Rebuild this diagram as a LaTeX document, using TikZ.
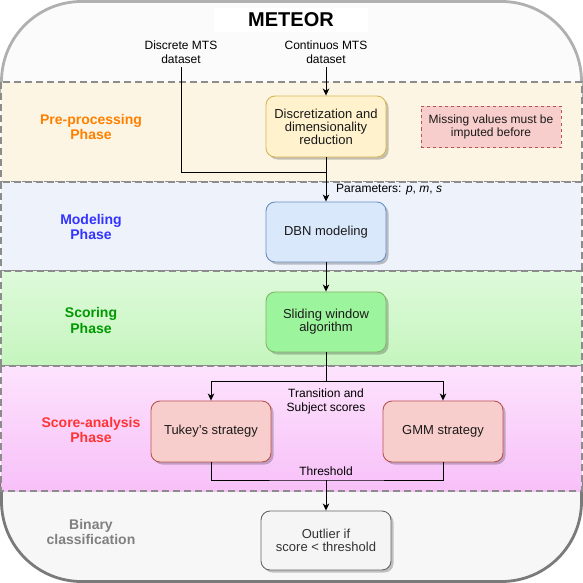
\documentclass[tikz,border=0pt]{standalone}
\usepackage{fontspec}
\setmainfont{Liberation Sans}
\usetikzlibrary{arrows.meta,shadows}
\definecolor{topfill}{HTML}{FBFBFB}
\definecolor{binfill}{HTML}{F7F7F7}
\definecolor{outerlight}{HTML}{B0B0B0}
\definecolor{outerdark}{HTML}{7A7A7A}
\definecolor{bandline}{HTML}{8C8C8C}
\definecolor{prefill}{HTML}{FDF5E3}
\definecolor{modfill}{HTML}{EEF2FB}
\definecolor{scoretop}{HTML}{DEFADA}
\definecolor{scorebot}{HTML}{C5F5BE}
\definecolor{satop}{HTML}{FDE3FD}
\definecolor{sabot}{HTML}{F7C0F8}
\definecolor{yellowfill}{HTML}{FFF2CC}
\definecolor{yellowline}{HTML}{D6B656}
\definecolor{bluefill}{HTML}{DAE8FC}
\definecolor{blueline}{HTML}{6C8EBF}
\definecolor{greenfill}{HTML}{9CF59C}
\definecolor{greenline}{HTML}{82B366}
\definecolor{redfill}{HTML}{F8CECC}
\definecolor{redline}{HTML}{B85450}
\definecolor{grayfill}{HTML}{F5F5F5}
\definecolor{grayline}{HTML}{666666}
\definecolor{phorange}{HTML}{FF8000}
\definecolor{phblue}{HTML}{3333FF}
\definecolor{phgreen}{HTML}{009900}
\definecolor{phred}{HTML}{FF3333}
\definecolor{phgray}{HTML}{808080}
\definecolor{boxtext}{HTML}{1A1A1A}
\begin{document}
\begin{tikzpicture}[x=1pt,y=-1pt,
  band/.style={draw=bandline, line width=1.5pt, dash pattern=on 7pt off 4pt},
  procbox/.style={rectangle, rounded corners=9pt, line width=0.9pt, minimum width=120pt,
    minimum height=60pt, align=center, text=boxtext, inner sep=2pt,
    font=\fontsize{13}{13}\selectfont,
    drop shadow={shadow xshift=2.5pt, shadow yshift=-2.5pt, fill=black, opacity=0.22}},
  lbl/.style={align=center, inner sep=3pt, font=\fontsize{12}{14.5}\selectfont},
  phase/.style={align=center, inner sep=1pt, font=\bfseries\fontsize{14}{15.5}\selectfont},
  wire/.style={line width=0.9pt, black},
  arr/.style={wire, -{Stealth[length=7pt, width=6.5pt, inset=2pt]}}
]
\useasboundingbox (0,0) rectangle (583,583);
% outer container
\fill[topfill, rounded corners=80pt] (1.5,1.5) rectangle (581.5,581.5);
\begin{scope}
  \clip (0,0) rectangle (583,100);
  \draw[outerlight, line width=2.8pt, rounded corners=80pt] (1.5,1.5) rectangle (581.5,581.5);
\end{scope}
\begin{scope}
  \clip (0,480) rectangle (583,583);
  \fill[binfill, rounded corners=80pt] (1.5,1.5) rectangle (581.5,581.5);
  \draw[outerdark, line width=2.8pt, rounded corners=80pt] (1.5,1.5) rectangle (581.5,581.5);
\end{scope}
% bands
\path[band, fill=prefill] (1,82) rectangle (582,182);
\path[band, fill=modfill] (1,182) rectangle (582,271);
\path[band, top color=scoretop, bottom color=scorebot] (1,271) rectangle (582,366);
\path[band, top color=satop, bottom color=sabot] (1,366) rectangle (582,491);
% title
\node[fill=white, minimum width=154pt, minimum height=24pt, inner sep=0pt,
  font=\bfseries\fontsize{20}{20}\selectfont] (title) at (291,20) {METEOR};
% phase labels
\node[phase, text=phorange] (ppre) at (91,127) {Pre-processing\\Phase};
\node[phase, text=phblue] (pmod) at (91,227) {Modeling\\Phase};
\node[phase, text=phgreen] (pscore) at (91,320.5) {Scoring\\Phase};
\node[phase, text=phred] (psa) at (91,430) {Score-analysis\\Phase};
\node[phase, text=phgray] (pbin) at (91,532) {Binary\\classification};
% inputs
\node[lbl] (disc) at (181,52) {Discrete MTS\\dataset};
\node[lbl] (cont) at (326,52) {Continuos MTS\\dataset};
% boxes
\node[procbox, fill=yellowfill, draw=yellowline, minimum height=61pt] (dr) at (326,126.5) {Discretization and\\dimensionality\\reduction};
\node[rectangle, fill=redfill, draw=redline, line width=0.6pt, dashed, minimum width=140pt,
  minimum height=41pt, align=center, text=boxtext, font=\fontsize{12}{13.5}\selectfont] (mv) at (491,127) {Missing values must be\\imputed before};
\node[procbox, fill=bluefill, draw=blueline] (dbn) at (326,232) {DBN modeling};
\node[procbox, fill=greenfill, draw=greenline] (sw) at (326,322) {Sliding window\\algorithm};
\node[procbox, fill=redfill, draw=redline, minimum height=61pt] (tk) at (211,431.5) {Tukey's strategy};
\node[procbox, fill=redfill, draw=redline, minimum height=61pt] (gmm) at (443,431.5) {GMM strategy};
\node[procbox, fill=grayfill, draw=grayline, minimum width=130pt, minimum height=59pt, text=black!80] (out) at (326,540.5) {Outlier if\\score < threshold};
% labels
\node[lbl, anchor=west] (par) at (333,190) {Parameters: \textit{p}, \textit{m}, \textit{s}};
\node[lbl] (ts) at (326,401.5) {Transition and\\Subject scores};
\node[lbl] (th) at (326,471) {Threshold};
% junctions
\coordinate (j1) at (326,172);
\coordinate (split) at (326,381);
\coordinate (merge) at (326,480);
% connectors
\draw[arr] (cont.south) -- (dr.north);
\draw[wire] (disc.south) |- (j1);
\draw[arr] (dr.south) -- (dbn.north);
\draw[arr] (dbn.south) -- (sw.north);
\draw[wire] (sw.south) -- (split);
\draw[arr] (split) -| (tk.north);
\draw[arr] (split) -| (gmm.north);
\draw[wire] (tk.south) |- (merge) -| (gmm.south);
\draw[arr] (merge) -- (out.north);
\end{tikzpicture}
\end{document}
